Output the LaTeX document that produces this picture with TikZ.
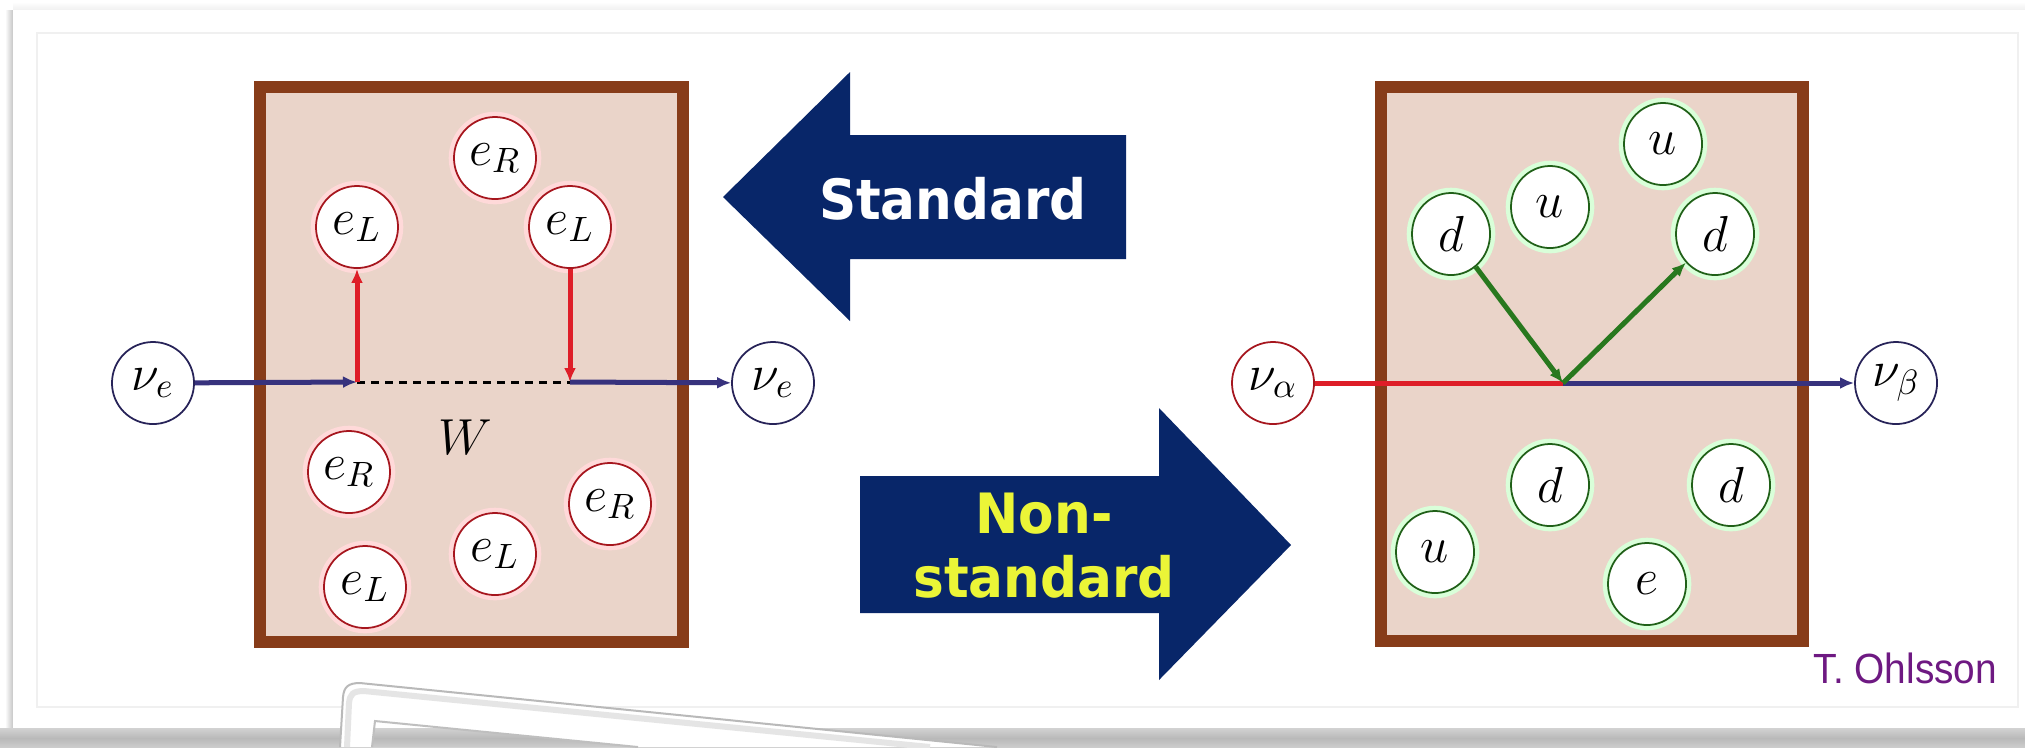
\documentclass[tikz,border=0pt]{standalone}
\usepackage{fontspec}
\newfontfamily\arialf{Liberation Sans}
\newfontfamily\verdf{DejaVu Sans}
\usetikzlibrary{arrows.meta,shapes.geometric}
\definecolor{boxfill}{RGB}{234,212,201}
\definecolor{boxedge}{RGB}{135,60,25}
\definecolor{nublue}{RGB}{55,50,125}
\definecolor{ered}{RGB}{222,30,40}
\definecolor{qgreen}{RGB}{40,120,30}
\definecolor{navyarrow}{RGB}{8,38,105}
\definecolor{yel}{RGB}{235,245,55}
\definecolor{purp}{RGB}{110,25,130}
\begin{document}
\begin{tikzpicture}[x=0.01cm,y=-0.01cm,
  every node/.style={inner sep=0pt},
  part/.style={fill=white, line width=0.5pt, font=\fontsize{14.5}{16}\selectfont},
  ecirc/.style={part, circle, minimum size=0.82cm, draw=ered!75!black, preaction={draw=red!15, line width=3pt}},
  ncirc/.style={part, circle, minimum size=0.82cm, draw=nublue!70!black},
  acirc/.style={part, circle, minimum size=0.82cm, draw=ered!75!black},
  qcirc/.style={part, ellipse, minimum width=0.78cm, minimum height=0.82cm, draw=qgreen!80!black, preaction={draw=green!15, line width=3pt}},
  boxstyle/.style={fill=boxfill, draw=boxedge, line width=0.12cm},
  arr/.style={-{Latex[length=0.14cm,width=0.12cm]}},
  nuline/.style={draw=nublue, line width=0.05cm},
  redline/.style={draw=ered, line width=0.05cm},
  greenline/.style={draw=qgreen, line width=0.05cm},
  bigarrow/.style={fill=navyarrow},
  arrowtext/.style={font=\verdf\bfseries\fontsize{15.8}{18.2}\selectfont, align=center, xscale=0.93}
]
\useasboundingbox (0,0) rectangle (2025,747);
% page frame
\fill[white] (0,0) rectangle (2025,747);
\shade[left color=white, right color=gray!45] (5,10) rectangle (13,728);
\shade[top color=white, bottom color=gray!12] (13,2) rectangle (2025,10);
\fill[white] (13,10) rectangle (2025,728);
\shade[top color=gray!35, bottom color=gray!55] (0,728) rectangle (2025,738);
\shade[top color=gray!55, bottom color=gray!40] (0,738) rectangle (2025,747);
\draw[gray!12, line width=0.02cm] (37,33) rectangle (2018,707);
% page curl
\fill[white, even odd rule] (340,747) -- (343,697) .. controls (344,687) and (348,683) .. (360,683) -- (997,747) -- cycle
  (372,747) -- (375,721) -- (638,747) -- cycle;
\draw[gray!20, line width=0.06cm] (347,747) -- (349,703) .. controls (350,694) and (353,691) .. (364,691) -- (930,747);
\draw[gray!55, line width=0.02cm] (340,747) -- (343,697) .. controls (344,687) and (348,683) .. (360,683) -- (997,747);
\draw[gray!50, line width=0.02cm] (372,747) -- (375,721) -- (638,747);
% boxes
\draw[boxstyle] (260,87) rectangle (683,642);
\draw[boxstyle] (1381,87) rectangle (1803,641);
% big arrows
\fill[bigarrow] (723,197) -- (850,72) -- (850,135) -- (1126,135) -- (1126,259) -- (850,259) -- (850,321) -- cycle;
\fill[bigarrow] (860,476) -- (1159,476) -- (1159,408) -- (1291,545) -- (1159,680) -- (1159,613) -- (860,613) -- cycle;
\node[arrowtext, text=white, anchor=base] (std) at (953,219) {Standard};
\node[arrowtext, text=yel, anchor=center] (nstd) at (1044,546) {Non-\\standard};
% left box particles
\node[ncirc] (nuL) at (153,383) {$\nu_e$};
\node[ncirc] (nuR) at (773,383) {$\nu_e$};
\node[ecirc] (eL1) at (357,227) {$e_L$};
\node[ecirc] (eR1) at (495,158) {$e_R$};
\node[ecirc] (eL2) at (570,227) {$e_L$};
\node[ecirc] (eR2) at (349,472) {$e_R$};
\node[ecirc] (eR3) at (610,504) {$e_R$};
\node[ecirc] (eL3) at (495,554) {$e_L$};
\node[ecirc] (eL4) at (365,587) {$e_L$};
\node[font=\fontsize{15}{17}\selectfont] (W) at (465,437) {$W$};
\coordinate (v1) at (357,382);
\coordinate (v2) at (570,382);
\draw[nuline, arr] (nuL) -- (v1);
\draw[black, line width=0.03cm, dash pattern=on 0.08cm off 0.06cm] (v1) -- (v2);
\draw[redline, arr] (v1) -- (eL1);
\draw[redline, arr] (eL2) -- (v2);
\draw[nuline, arr] (v2) -- (nuR);
% right box particles
\node[acirc] (nuA) at (1273,383) {$\nu_\alpha$};
\node[ncirc] (nuB) at (1896,383) {$\nu_\beta$};
\node[qcirc] (u1) at (1663,144) {$u$};
\node[qcirc] (u2) at (1550,207) {$u$};
\node[qcirc] (dL) at (1451,234) {$d$};
\node[qcirc] (dR) at (1715,234) {$d$};
\node[qcirc] (d3) at (1550,485) {$d$};
\node[qcirc] (d4) at (1731,485) {$d$};
\node[qcirc] (u3) at (1435,552) {$u$};
\node[qcirc] (e1) at (1647,584) {$e$};
\coordinate (v3) at (1563,383);
\draw[redline] (nuA) -- (v3);
\draw[nuline, arr] (v3) -- (nuB);
\draw[greenline, arr] (dL) -- (v3);
\draw[greenline, arr] (v3) -- (dR);
% credit
\node[anchor=base west, text=purp, font=\arialf\fontsize{12}{14}\selectfont, xscale=0.92] (credit) at (1813,683) {T. Ohlsson};
\end{tikzpicture}
\end{document}
